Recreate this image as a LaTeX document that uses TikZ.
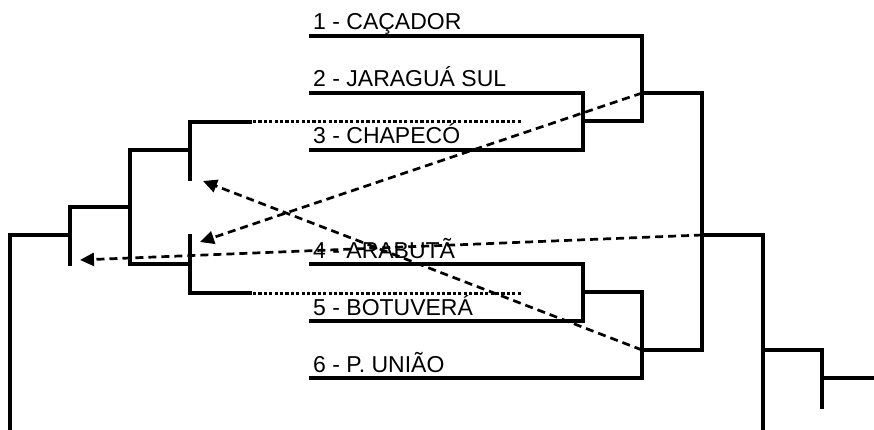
\documentclass[tikz,border=0pt]{standalone}
\usepackage{fontspec}
\setmainfont{Liberation Sans}
\usetikzlibrary{arrows.meta}
\begin{document}
\begin{tikzpicture}[x=1pt,y=-1pt,
  tree/.style={line width=3.3pt, line cap=rect},
  dotline/.style={line width=3pt, dash pattern=on 3.2pt off 2.2pt},
  mig/.style={line width=2.7pt, dash pattern=on 8pt off 5pt, -{Triangle[length=14pt,width=13pt]}},
  lab/.style={anchor=base west, inner sep=0pt, font=\fontsize{23}{26}\selectfont}]
\useasboundingbox (0,0) rectangle (874,430);
% coordinates of right tree
\coordinate (L1) at (311,36);  \coordinate (L2) at (311,93);  \coordinate (L3) at (311,150);
\coordinate (L4) at (311,264); \coordinate (L5) at (311,321); \coordinate (L6) at (311,378);
\coordinate (n23) at (583,121);
\coordinate (n123) at (642,93);
\coordinate (n45) at (583,292);
\coordinate (n456) at (642,350);
\coordinate (rr) at (702,235);
\coordinate (rr2) at (763,350);
\coordinate (rr3) at (822,378);
% right tree
\draw[tree] (L1) -- (642,36) -- (642,121) -- (n23);
\draw[tree] (L2) -- (583,93) -- (583,150) -- (L3);
\draw[tree] (n123) -- (702,93) -- (702,350) -- (n456);
\draw[tree] (L4) -- (583,264) -- (583,321) -- (L5);
\draw[tree] (n45) -- (642,292) -- (642,378) -- (L6);
\draw[tree] (rr) -- (763,235) -- (763,432);
\draw[tree] (rr2) -- (822,350) -- (822,407);
\draw[tree] (rr3) -- (876,378);
% left tree
\coordinate (a1) at (190,179);
\coordinate (a2) at (190,236);
\coordinate (a3) at (70,264);
\draw[tree] (10,432) -- (10,235) -- (70,235);
\draw[tree] (a3) -- (70,207) -- (130,207);
\draw[tree] (130,264) -- (130,150) -- (190,150);
\draw[tree] (a1) -- (190,122) -- (250,122);
\draw[tree] (130,264) -- (190,264);
\draw[tree] (a2) -- (190,293) -- (250,293);
\draw[dotline] (253,122) -- (522,122);
\draw[dotline] (253,293) -- (522,293);
% labels
\node[lab] (t1) at (313,30) {1 - CAÇADOR};
\node[lab] (t2) at (313,87) {2 - JARAGUÁ SUL};
\node[lab] (t3) at (313,144) {3 - CHAPECÓ};
\node[lab] (t4) at (313,258) {4 - ARABUTÃ};
\node[lab] (t5) at (313,315) {5 - BOTUVERÁ};
\node[lab] (t6) at (313,372) {6 - P. UNIÃO};
% migration arrows
\draw[mig] (n123) -- (200,242);
\draw[mig] (rr) -- (80,260);
\draw[mig] (n456) -- (203,181);
\end{tikzpicture}
\end{document}
